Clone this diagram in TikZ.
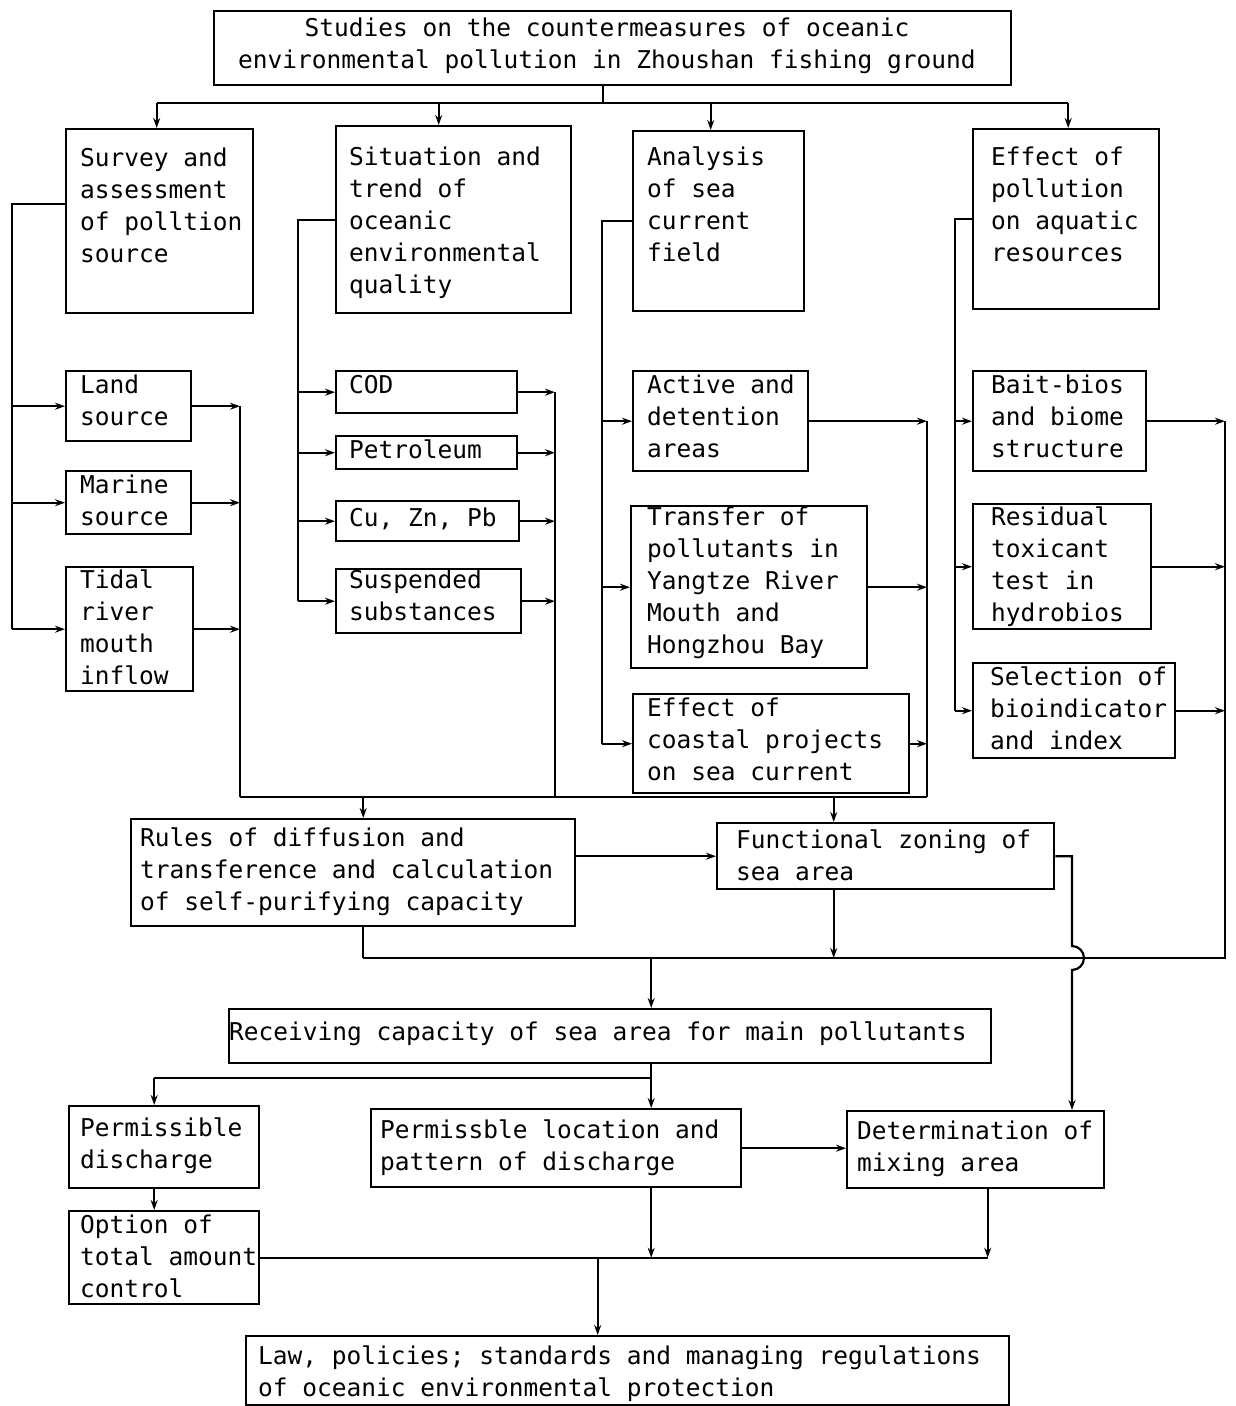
\documentclass[tikz,border=0pt]{standalone}
\usepackage{fontspec}
\setmonofont{DejaVu Sans Mono}
\usetikzlibrary{arrows.meta}
\newcommand{\flowbox}[8]{%
  \node[box, minimum width={#4-#2}, minimum height={#5-#3}] (#1) at (#2,#3) {};
  \node[boxtext] (#1-txt) at (#6,#7) {#8};
}

\begin{document}
\begin{tikzpicture}[x=1pt,y=-1pt,
    box/.style={draw, line width=2.4pt, anchor=north west, inner sep=0pt},
    boxtext/.style={anchor=north west, inner sep=0pt, align=left, font=\fontsize{24.5}{32}\selectfont\ttfamily},
    wire/.style={line width=2.2pt},
    arr/.style={wire, -{Stealth[length=10pt,width=7pt]}}]
  \useasboundingbox (0,0) rectangle (1235,1406);

  \node[box, minimum width=797, minimum height=74] (top) at (213,10) {};
  \node[boxtext, align=center, anchor=center] (top-txt) at (607,46) {Studies on the countermeasures of oceanic\\environmental pollution in Zhoushan fishing ground};

  \flowbox{survey}{65}{128}{252}{312}{80}{148}{Survey and\\assessment\\of polltion\\source}
  \flowbox{situation}{335}{125}{570}{312}{349}{147}{Situation and\\trend of\\oceanic\\environmental\\quality}
  \flowbox{analysis}{632}{130}{803}{310}{647}{147}{Analysis\\of sea\\current\\field}
  \flowbox{effect}{972}{128}{1158}{308}{991}{147}{Effect of\\pollution\\on aquatic\\resources}

  \flowbox{land}{65}{370}{190}{440}{80}{375}{Land\\source}
  \flowbox{marine}{65}{470}{190}{533}{80}{475}{Marine\\source}
  \flowbox{tidal}{65}{566}{192}{690}{80}{570}{Tidal\\river\\mouth\\inflow}

  \flowbox{cod}{335}{370}{516}{412}{349}{375}{COD}
  \flowbox{petrol}{335}{435}{516}{468}{349}{440}{Petroleum}
  \flowbox{metals}{335}{500}{518}{540}{349}{508}{Cu, Zn, Pb}
  \flowbox{suspended}{335}{568}{520}{632}{349}{570}{Suspended\\substances}

  \flowbox{active}{632}{370}{807}{470}{647}{375}{Active and\\detention\\areas}
  \flowbox{transfer}{630}{505}{866}{667}{647}{507}{Transfer of\\pollutants in\\Yangtze River\\Mouth and\\Hongzhou Bay}
  \flowbox{coastal}{632}{693}{908}{792}{647}{698}{Effect of\\coastal projects\\on sea current}

  \flowbox{bait}{972}{370}{1145}{470}{991}{375}{Bait-bios\\and biome\\structure}
  \flowbox{residual}{972}{503}{1150}{628}{991}{507}{Residual\\toxicant\\test in\\hydrobios}
  \flowbox{bioind}{972}{662}{1174}{757}{990}{667}{Selection of\\bioindicator\\and index}

  \flowbox{rules}{130}{818}{574}{925}{140}{828}{Rules of diffusion and\\transference and calculation\\of self-purifying capacity}
  \flowbox{zoning}{716}{822}{1053}{888}{736}{830}{Functional zoning of\\sea area}
  \flowbox{receiving}{228}{1008}{990}{1062}{229}{1022}{Receiving capacity of sea area for main pollutants}

  \flowbox{discharge}{68}{1105}{258}{1187}{80}{1118}{Permissible\\discharge}
  \flowbox{totalctl}{68}{1210}{258}{1303}{80}{1215}{Option of\\total amount\\control}
  \flowbox{location}{370}{1108}{740}{1186}{380}{1120}{Permissble location and\\pattern of discharge}
  \flowbox{mixing}{846}{1110}{1103}{1187}{857}{1121}{Determination of\\mixing area}
  \flowbox{law}{245}{1335}{1008}{1404}{258}{1346}{Law, policies; standards and managing regulations\\of oceanic environmental protection}

  % heading to the four studies
  \coordinate (hub) at (603,103);
  \draw[wire] (top.south -| hub) -- (hub);
  \draw[wire] ([xshift=-3pt]survey.north |- hub) -- ([xshift=2pt]effect.north |- hub);
  \foreach \n/\dx in {survey/-3, situation/-15, analysis/-8, effect/2}
    \draw[arr] ([xshift=\dx pt]\n.north |- hub) -- ([xshift=\dx pt]\n.north);

  % branches
  \coordinate (spineA) at (12,0);
  \coordinate (spineB) at (240,0);
  \coordinate (spineC) at (298,0);
  \coordinate (spineD) at (555,0);
  \coordinate (spineE) at (602,0);
  \coordinate (spineF) at (927,0);
  \coordinate (spineG) at (955,0);
  \coordinate (spineH) at (1225,0);
  \coordinate (bus2) at (0,797);
  \coordinate (bus3) at (0,958);

  \draw[wire] ([yshift=17pt]survey.west) -| (spineA |- tidal.west);
  \draw[wire] (situation.west) -| (spineC |- suspended.west);
  \draw[wire] (analysis.west) -| (spineE |- coastal.west);
  \draw[wire] (effect.west) -| (spineG |- bioind.west);
  \foreach \n in {land,marine,tidal} {
    \draw[arr] (spineA |- \n.west) -- (\n.west);
    \draw[arr] (\n.east) -- (\n.east -| spineB);
  }
  \foreach \n in {cod,petrol,metals,suspended} {
    \draw[arr] (spineC |- \n.west) -- (\n.west);
    \draw[arr] (\n.east) -- (\n.east -| spineD);
  }
  \foreach \n in {active,transfer,coastal} {
    \draw[arr] (spineE |- \n.west) -- (\n.west);
    \draw[arr] (\n.east) -- (\n.east -| spineF);
  }
  \foreach \n in {bait,residual,bioind} {
    \draw[arr] (spineG |- \n.west) -- (\n.west);
    \draw[arr] (\n.east) -- (\n.east -| spineH);
  }
  \draw[wire] (spineB |- land.east) -- (spineB |- bus2);
  \draw[wire] (spineD |- cod.east) -- (spineD |- bus2);
  \draw[wire] (spineF |- active.east) -- (spineF |- bus2);
  \draw[wire] (spineB |- bus2) -- (spineF |- bus2);

  \draw[arr] ([xshift=10pt]rules.north |- bus2) -- ([xshift=10pt]rules.north);
  \draw[arr] ([xshift=-52pt]zoning.north |- bus2) -- ([xshift=-52pt]zoning.north);
  \draw[arr] (rules.east |- zoning.west) -- (zoning.west);

  \coordinate (hopA) at (1072,946);
  \draw[arr] (zoning.east) -| (hopA) arc[start angle=90, end angle=-90, radius=12pt] -- (hopA |- mixing.north);

  \draw[wire] (spineH |- bait.east) |- ([xshift=10pt]rules.south |- bus3);
  \draw[wire] ([xshift=10pt]rules.south) -- ([xshift=10pt]rules.south |- bus3);
  \draw[arr] ([xshift=-52pt]zoning.south) -- ([xshift=-52pt]zoning.south |- bus3);
  \draw[arr] ([xshift=41pt]receiving.north |- bus3) -- ([xshift=41pt]receiving.north);

  % below the receiving capacity
  \coordinate (bus4) at (0,1078);
  \draw[wire] ([xshift=41pt]receiving.south) -- ([xshift=41pt]receiving.south |- bus4) -- ([xshift=-10pt]discharge.north |- bus4);
  \draw[arr] ([xshift=-10pt]discharge.north |- bus4) -- ([xshift=-10pt]discharge.north);
  \draw[arr] ([xshift=41pt]receiving.south |- bus4) -- ([xshift=41pt]receiving.south |- location.north);
  \draw[arr] ([xshift=-10pt]discharge.south) -- ([xshift=-10pt]totalctl.north);
  \draw[arr] (location.east) -- (location.east -| mixing.west);

  \draw[wire] (totalctl.east) -- ([xshift=12pt]mixing.south |- totalctl.east);
  \draw[arr] ([xshift=95pt]location.south) -- ([xshift=95pt]location.south |- totalctl.east);
  \draw[arr] ([xshift=12pt]mixing.south) -- ([xshift=12pt]mixing.south |- totalctl.east);
  \draw[arr] ([xshift=-30pt]law.north |- totalctl.east) -- ([xshift=-30pt]law.north);
\end{tikzpicture}
\end{document}
